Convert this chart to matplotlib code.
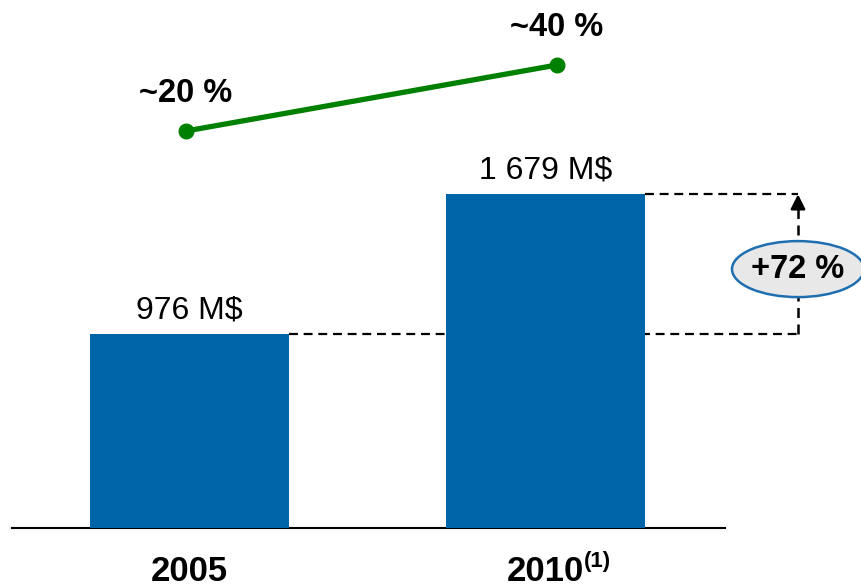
import matplotlib
matplotlib.use("Agg")
import matplotlib.pyplot as plt
from matplotlib.patches import Ellipse
import matplotlib.transforms as mtransforms

plt.rcParams['font.family'] = ['Liberation Sans', 'DejaVu Sans']

# ---- data ----
years = ["2005", "2010"]
year_note = ["", "(1)"]
revenue = [976, 1679]           # M$
revenue_labels = ["976 M$", "1 679 M$"]
share = [20, 40]                # %
share_labels = ["~20 %", "~40 %"]
growth_label = "+72 %"

BAR_COLOR = "#0064A8"
GREEN = "#008000"

W, H = 862, 587
fig = plt.figure(figsize=(W / 100, H / 100), dpi=100)

# main axes: pixel 12..725 horizontally, baseline at pixel 528, top at 0
base_px = 528
ax = fig.add_axes([12 / W, (H - base_px) / H, (725 - 12) / W, base_px / H])
px_per_x = 356.0
ax.set_xlim((12 - 189.5) / px_per_x, (725 - 189.5) / px_per_x)
px_per_val = 194.0 / revenue[0]
ax.set_ylim(0, base_px / px_per_val)

xs = list(range(len(years)))
ax.bar(xs, revenue, width=199 / px_per_x, color=BAR_COLOR, zorder=3)

for spine in ["top", "right", "left"]:
    ax.spines[spine].set_visible(False)
ax.spines["bottom"].set_linewidth(1.5)
ax.set_xticks([])
ax.set_yticks([])

# value labels above bars
for x, v, lab in zip(xs, revenue, revenue_labels):
    ax.annotate(lab, (x, v), xytext=(0, 6), textcoords="offset points",
                ha="center", va="bottom", fontsize=23)

# year labels below baseline
trans = mtransforms.blended_transform_factory(ax.transData, ax.transAxes)
for x, y, note in zip(xs, years, year_note):
    t = ax.annotate(y, (x, 0), xycoords=trans, xytext=(0, -31), textcoords="offset points",
                    ha="center", va="center", fontsize=25, fontweight="bold")
    if note:
        ax.annotate(note, (1, 0.5), xycoords=t, xytext=(0, 7), textcoords="offset points",
                    ha="left", va="center", fontsize=16, fontweight="bold")

# dashed comparison lines
x_arrow = (798 - 189.5) / px_per_x
bw = 199 / px_per_x / 2
dash = (0, (4, 2.6))
ax.plot([xs[0] + bw, x_arrow], [revenue[0], revenue[0]], ls=dash, color="black",
        lw=1.6, zorder=2, clip_on=False)
ax.plot([xs[1] + bw, x_arrow], [revenue[1], revenue[1]], ls=dash, color="black",
        lw=1.6, zorder=2, clip_on=False)
ax.plot([x_arrow, x_arrow], [revenue[0], revenue[1] - 60], ls=dash, color="black",
        lw=1.8, zorder=2, clip_on=False)
ax.annotate("", xy=(x_arrow, revenue[1]), xytext=(x_arrow, revenue[1] - 70),
            arrowprops=dict(arrowstyle="-|>", color="black", lw=1.8, mutation_scale=22,
                            shrinkA=0, shrinkB=0), annotation_clip=False)

# growth ellipse
ymid = (revenue[0] + revenue[1]) / 2 - 25
ell = Ellipse((x_arrow, ymid), width=132 / px_per_x, height=56 / px_per_val,
              facecolor="#e8e8e8", edgecolor="#1f6fb0", lw=1.8, zorder=5, clip_on=False)
ax.add_patch(ell)
ax.text(x_arrow, ymid, growth_label, ha="center", va="center", fontsize=23.5,
        fontweight="bold", zorder=6, clip_on=False)

# green share line: own axes, points at pixel x 186 and 557
lx0, lx1 = 186, 557
ax2 = fig.add_axes([lx0 / W, (H - base_px) / H, (lx1 - lx0) / W, base_px / H])
ax2.set_xlim(0, 1)
px_per_pct = 66 / (share[1] - share[0])
y0_px = 131 + share[0] * px_per_pct
ax2.set_ylim(-(base_px - y0_px) / px_per_pct, y0_px / px_per_pct)
ax2.axis("off")
ax2.patch.set_alpha(0)
ax2.plot(xs, share, color=GREEN, lw=3.8, marker="o", markersize=10.5, clip_on=False)
for x, v, lab in zip(xs, share, share_labels):
    ax2.annotate(lab, (x, v), xytext=(0, 16), textcoords="offset points",
                 ha="center", va="bottom", fontsize=23.5, fontweight="bold")

fig.savefig("out.png", dpi=100)
